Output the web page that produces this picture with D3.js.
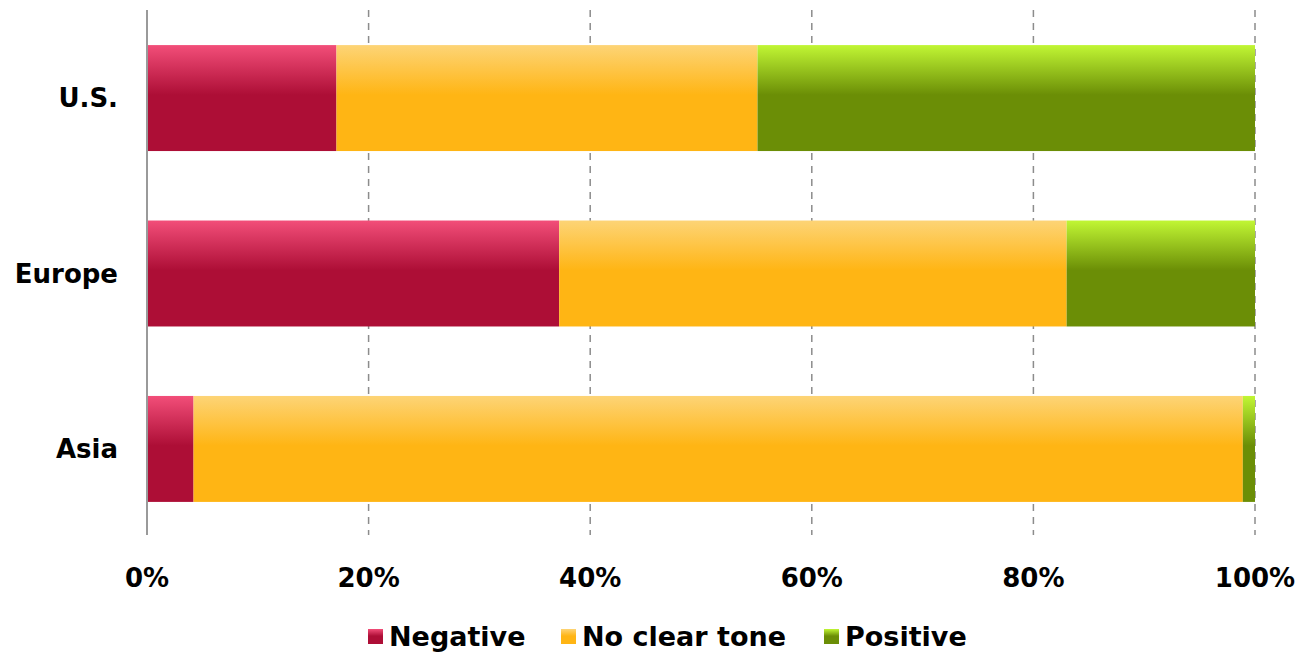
<!DOCTYPE html>
<html>
<head>
<meta charset="utf-8">
<script src="https://cdn.jsdelivr.net/npm/d3@7"></script>
<style>
  html, body { margin: 0; padding: 0; background: #fff; }
  svg { display: block; font-family: "DejaVu Sans", sans-serif; font-weight: bold; }
</style>
</head>
<body>
<svg id="chart" width="1297" height="653"></svg>
<script>
// Share of coverage tone by region (percent of total)
const regions = ["U.S.", "Europe", "Asia"];
const seriesNames = ["Negative", "No clear tone", "Positive"];
const negative = [17.1, 37.2, 4.2];
const neutral = [38.0, 45.8, 94.7];
const positive = [44.9, 17.0, 1.1];
const tickValues = [0, 20, 40, 60, 80, 100];

const palette = {
  "Negative": { top: "#f24e79", bottom: "#ad0e36" },
  "No clear tone": { top: "#fdd476", bottom: "#ffb514" },
  "Positive": { top: "#c1f634", bottom: "#6b8e06" }
};

const svg = d3.select("#chart");
const W = 1297;
const plotLeft = 147, plotRight = 1255, plotTop = 10, axisBottom = 535;

const rows = regions.map((r, i) => ({
  region: r,
  "Negative": negative[i],
  "No clear tone": neutral[i],
  "Positive": positive[i]
}));
const stacked = d3.stack().keys(seriesNames)(rows);

const x = d3.scaleLinear().domain([0, 100]).range([plotLeft, plotRight]);
const y = d3.scaleBand().domain(regions).range([plotTop, 537]).paddingInner(0.396).paddingOuter(0.2);

// Vertical gradients: light at the top, solid from the middle down
const defs = svg.append("defs");
seriesNames.forEach((name, i) => {
  const g = defs.append("linearGradient").attr("id", "grad" + i)
    .attr("x1", 0).attr("y1", 0).attr("x2", 0).attr("y2", 1);
  g.append("stop").attr("offset", "0%").attr("stop-color", palette[name].top);
  g.append("stop").attr("offset", "47%").attr("stop-color", palette[name].bottom);
  g.append("stop").attr("offset", "100%").attr("stop-color", palette[name].bottom);
});

// Dashed gridlines
svg.append("g")
  .selectAll("line")
  .data(tickValues.filter(d => d > 0))
  .join("line")
  .attr("x1", d => x(d)).attr("x2", d => x(d))
  .attr("y1", plotTop).attr("y2", axisBottom)
  .attr("stroke", "#8c8c8c").attr("stroke-width", 1.5)
  .attr("stroke-dasharray", "7,6");

// Bars
svg.append("g")
  .selectAll("g")
  .data(stacked)
  .join("g")
  .attr("fill", (d, i) => `url(#grad${i})`)
  .selectAll("rect")
  .data(d => d)
  .join("rect")
  .attr("x", d => x(d[0]))
  .attr("width", d => x(d[1]) - x(d[0]))
  .attr("y", d => y(d.data.region))
  .attr("height", y.bandwidth());

// Left axis line
svg.append("line")
  .attr("x1", x(0)).attr("x2", x(0))
  .attr("y1", plotTop).attr("y2", axisBottom)
  .attr("stroke", "#9a9a9a").attr("stroke-width", 2);

// Category labels
svg.append("g")
  .selectAll("text")
  .data(regions)
  .join("text")
  .attr("x", x(0) - 29)
  .attr("y", d => y(d) + y.bandwidth() / 2)
  .attr("dy", "0.35em")
  .attr("text-anchor", "end")
  .attr("font-size", 26)
  .attr("fill", "#000")
  .text(d => d);

// Percent tick labels
svg.append("g")
  .selectAll("text")
  .data(tickValues)
  .join("text")
  .attr("x", d => x(d))
  .attr("y", 578)
  .attr("dy", "0.35em")
  .attr("text-anchor", "middle")
  .attr("font-size", 26)
  .attr("fill", "#000")
  .text(d => d + "%");

// Legend
const legendX = [368, 561, 824];
const legend = svg.append("g")
  .selectAll("g")
  .data(seriesNames)
  .join("g")
  .attr("transform", (d, i) => `translate(${legendX[i]},637)`);
legend.append("rect")
  .attr("x", 0).attr("y", -8).attr("width", 15).attr("height", 15)
  .attr("fill", (d, i) => `url(#grad${i})`);
legend.append("text")
  .attr("x", 21).attr("y", 0).attr("dy", "0.35em")
  .attr("font-size", 27)
  .attr("fill", "#000")
  .text(d => d);
</script>
</body>
</html>
